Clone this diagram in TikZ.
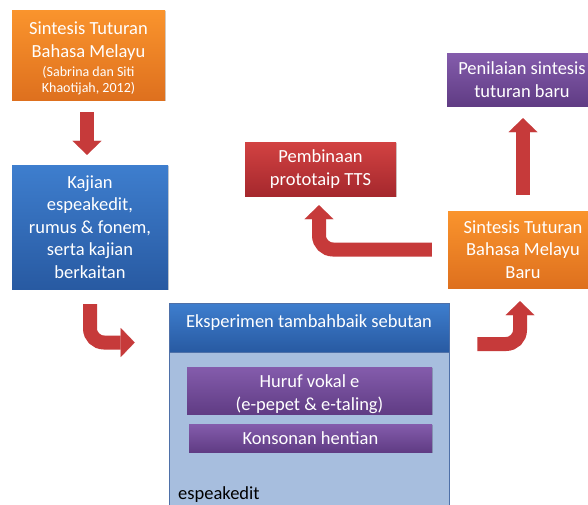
\documentclass[tikz,border=0pt]{standalone}
\usepackage{fontspec}
\setmainfont{Carlito}
\usetikzlibrary{arrows.meta,shadows}

\definecolor{orT}{RGB}{250,148,45}
\definecolor{orB}{RGB}{222,112,30}
\definecolor{blT}{RGB}{62,126,206}
\definecolor{blB}{RGB}{40,90,162}
\definecolor{rdT}{RGB}{210,66,66}
\definecolor{rdB}{RGB}{165,40,45}
\definecolor{puT}{RGB}{132,92,172}
\definecolor{puB}{RGB}{96,60,132}
\definecolor{bodyblue}{RGB}{167,190,222}
\definecolor{edgeblue}{RGB}{78,112,168}
\definecolor{arrowred}{RGB}{198,58,58}

\newcommand{\reftext}[1]{{\fontsize{14}{15.5}\selectfont #1}}
\newcommand{\shiftv}[2]{\raisebox{#1}[\height][\depth]{#2}}

\tikzset{
  box/.style={rectangle, inner sep=0pt, align=center, text=white,
    font=\fontsize{18.5}{22.5}\selectfont,
    drop shadow={shadow xshift=1pt, shadow yshift=-1.2pt, opacity=0.18, fill=black}},
  orangebox/.style={box, top color=orT, bottom color=orB},
  bluebox/.style={box, top color=blT, bottom color=blB},
  redbox/.style={box, top color=rdT, bottom color=rdB},
  purplebox/.style={box, top color=puT, bottom color=puB},
  bigarrow/.style={draw=arrowred, line width=14pt, rounded corners=14pt,
    -{Triangle[width=29pt,length=14pt,line width=0.1pt]}}
}

\begin{document}
\begin{tikzpicture}[x=1pt,y=-1pt]
\useasboundingbox (0,0) rectangle (588,504);
\clip (0,0) rectangle (588,504);
\fill[white] (0,0) rectangle (588,504);

% left column
\node[orangebox, minimum width=153pt, minimum height=90pt] (syn) at (88.5,55)
  {\shiftv{-4pt}{\begin{tabular}{@{}c@{}}Sintesis Tuturan\\Bahasa Melayu\\[-3pt]\reftext{(Sabrina dan Siti}\\[-7pt]\reftext{Khaotijah, 2012)}\end{tabular}}};
\node[bluebox, minimum width=156pt, minimum height=124pt] (kaj) at (90,227)
  {Kajian\\espeakedit,\\rumus \& fonem,\\serta kajian\\berkaitan};

% experiment container
\node[rectangle, draw=edgeblue, line width=0.6pt, fill=bodyblue,
  minimum width=280pt, minimum height=170pt, inner sep=0pt] (expbody) at (309,437) {};
\node[bluebox, draw=edgeblue, line width=0.6pt, minimum width=280pt, minimum height=49pt] (exphead) at (309,327.5)
  {\shiftv{5pt}{Eksperimen tambahbaik sebutan}};
\node[purplebox, minimum width=245pt, minimum height=47pt] (vokal) at (309.5,390.5)
  {\shiftv{-4pt}{\begin{tabular}{@{}c@{}}Huruf vokal e\\(e-pepet \& e-taling)\end{tabular}}};
\node[purplebox, minimum width=243pt, minimum height=28pt] (konson) at (310.5,438)
  {Konsonan hentian};
\node[anchor=base west, inner sep=0pt, text=black, font=\fontsize{18.5}{22.5}\selectfont] (esp) at (178,499.5) {espeakedit};

% right side
\node[redbox, minimum width=151pt, minimum height=54pt] (proto) at (320.5,169)
  {Pembinaan\\prototaip TTS};
\node[orangebox, minimum width=150pt, minimum height=77pt] (baru) at (523,249.5)
  {Sintesis Tuturan\\Bahasa Melayu\\Baru};
\node[purplebox, minimum width=150pt, minimum height=53pt] (nilai) at (522,79.5)
  {Penilaian sintesis\\tuturan baru};

% arrows
\draw[bigarrow] ([xshift=-1.5pt,yshift=-12pt]syn.south) -- ([xshift=-3pt,yshift=10pt]kaj.north);
\draw[bigarrow] ([yshift=-15pt]kaj.south) |- ([xshift=-34pt,yshift=-15pt]exphead.west);
\draw[bigarrow] ([xshift=-16pt]baru.west) -| ([xshift=-1.5pt,yshift=-9pt]proto.south);
\draw[bigarrow] ([xshift=28pt,yshift=-16.5pt]exphead.east) -| ([xshift=-3pt,yshift=-13pt]baru.south);
\draw[bigarrow] ([yshift=16pt]baru.north) -- ([yshift=-12pt]baru.north |- nilai.south);
\end{tikzpicture}
\end{document}
